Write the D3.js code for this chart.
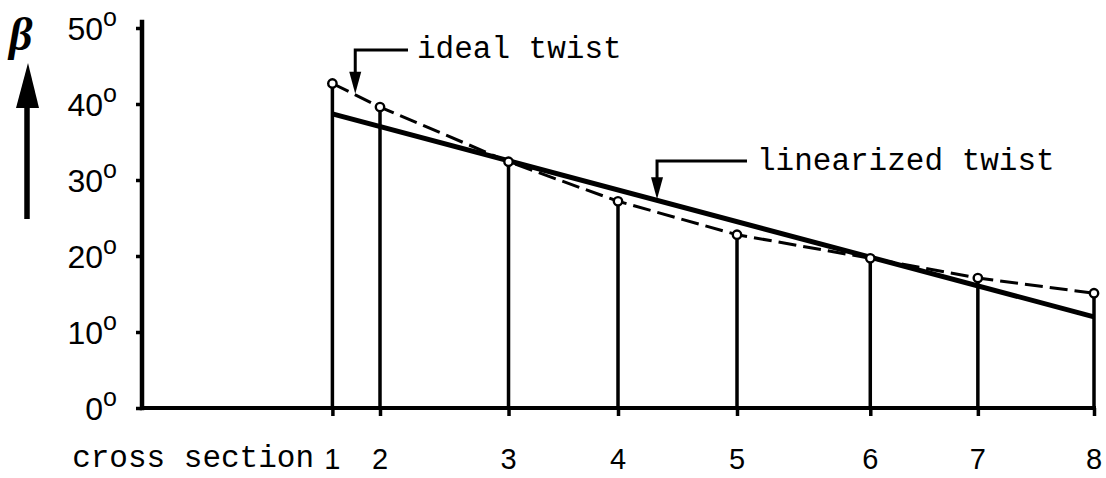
<!DOCTYPE html>
<html><head><meta charset="utf-8">
<script src="https://cdn.jsdelivr.net/npm/d3@7"></script>
<style>
html,body{margin:0;padding:0;background:#fff;}
svg{display:block;}
</style>
</head><body>
<svg id="chart" width="1106" height="478"></svg>
<script>
// ---- data ----
const sections = ["1","2","3","4","5","6","7","8"];
const sectionPos = [0.20, 0.25, 0.385, 0.50, 0.625, 0.765, 0.878, 1.0];   // relative radius
const idealTwist = [42.7, 39.6, 32.4, 27.2, 22.8, 19.7, 17.1, 15.1];      // degrees
const linearTwist = [38.7, 12.0];                                          // at section 1 and section 8
const yTicks = [0, 10, 20, 30, 40, 50];
const xTitle = "cross section";
const yTitle = "β";
const idealLabel = "ideal twist";
const linearLabel = "linearized twist";

const svg = d3.select("#chart");
const x = d3.scaleLinear().domain([0, 1]).range([142, 1094]);
const y = d3.scaleLinear().domain([0, 50]).range([408, 28]);

const sans = "'Liberation Sans', Arial, sans-serif";
const mono = "'Liberation Mono', 'DejaVu Sans Mono', monospace";

// y axis
const yAxis = d3.axisLeft(y).tickValues(yTicks).tickSize(6).tickFormat("").tickSizeOuter(0);
const gy = svg.append("g").attr("transform", `translate(${x(0)},0)`).call(yAxis);
gy.select(".domain").remove();
gy.selectAll(".tick line").attr("stroke", "#000").attr("stroke-width", 3.5);
svg.append("line").attr("x1", x(0)).attr("x2", x(0)).attr("y1", y(51.1)).attr("y2", y(-0.3))
  .attr("stroke", "#000").attr("stroke-width", 4.5);

// y labels
const yl = svg.append("g");
yTicks.forEach(t => {
  const tx = yl.append("text").attr("x", 117).attr("y", y(t) + 12)
    .attr("text-anchor", "end").attr("font-family", sans).attr("font-size", 32).attr("fill", "#000");
  tx.append("tspan").text(String(t));
  tx.append("tspan").attr("dy", -14).attr("font-size", 25).text("o");
});

// x axis
const xAxis = d3.axisBottom(x).tickValues(sectionPos).tickSize(8).tickFormat("").tickSizeOuter(0);
const gx = svg.append("g").attr("transform", `translate(0,${y(0)})`).call(xAxis);
gx.select(".domain").remove();
gx.selectAll(".tick line").attr("stroke", "#000").attr("stroke-width", 3.5);
svg.append("line").attr("x1", x(0)).attr("x2", x(1) + 2).attr("y1", y(0)).attr("y2", y(0))
  .attr("stroke", "#000").attr("stroke-width", 4);

// section numbers
svg.append("g").selectAll("text").data(sections).join("text")
  .attr("x", (d, i) => x(sectionPos[i])).attr("y", 469)
  .attr("text-anchor", "middle").attr("font-family", sans).attr("font-size", 29).attr("fill", "#000")
  .text(d => d);
svg.append("text").attr("x", 314).attr("y", 467).attr("text-anchor", "end")
  .attr("font-family", mono).attr("font-size", 31).attr("fill", "#000").text(xTitle);

// verticals at sections
svg.append("g").selectAll("line").data(sectionPos).join("line")
  .attr("x1", d => x(d)).attr("x2", d => x(d))
  .attr("y1", y(0)).attr("y2", (d, i) => y(idealTwist[i]))
  .attr("stroke", "#000").attr("stroke-width", 3.5);

// linearized twist
const linPts = [[sectionPos[0], linearTwist[0]], [sectionPos[sectionPos.length - 1], linearTwist[1]]];
const line = d3.line().x(d => x(d[0])).y(d => y(d[1]));
svg.append("path").attr("d", line(linPts)).attr("fill", "none").attr("stroke", "#000").attr("stroke-width", 5);

// ideal twist dashed
const idealPts = sectionPos.map((p, i) => [p, idealTwist[i]]);
svg.append("path").attr("d", line(idealPts)).attr("fill", "none").attr("stroke", "#000")
  .attr("stroke-width", 3).attr("stroke-dasharray", "18,7");
svg.append("g").selectAll("circle").data(idealPts).join("circle")
  .attr("cx", d => x(d[0])).attr("cy", d => y(d[1])).attr("r", 4.2)
  .attr("fill", "#fff").attr("stroke", "#000").attr("stroke-width", 2.4);

// annotation helper
function interp(pts, p) {
  for (let i = 0; i < pts.length - 1; i++) {
    if (p >= pts[i][0] && p <= pts[i + 1][0]) {
      const t = (p - pts[i][0]) / (pts[i + 1][0] - pts[i][0]);
      return pts[i][1] + t * (pts[i + 1][1] - pts[i][1]);
    }
  }
  return pts[pts.length - 1][1];
}
function leader(pos, pts, topY, endX, label, textX, textY) {
  const tx = x(pos), ty = y(interp(pts, pos)) - 1;
  svg.append("path").attr("d", `M${endX},${topY}H${tx}V${ty - 18}`)
    .attr("fill", "none").attr("stroke", "#000").attr("stroke-width", 3);
  svg.append("path").attr("d", `M${tx - 6},${ty - 22}L${tx + 6},${ty - 22}L${tx},${ty}Z`).attr("fill", "#000");
  svg.append("text").attr("x", textX).attr("y", textY).attr("font-family", mono)
    .attr("font-size", 31).attr("fill", "#000").text(label);
}
leader(0.224, idealPts, 50, 408, idealLabel, 417, 58);
leader(0.541, linPts, 161, 747, linearLabel, 757, 170);

// beta label with arrow
svg.append("text").attr("x", 9).attr("y", 50).attr("font-family", "'Liberation Serif', 'DejaVu Serif', serif")
  .attr("font-style", "italic").attr("font-weight", "bold").attr("font-size", 46).attr("fill", "#000").text(yTitle);
svg.append("line").attr("x1", 27).attr("x2", 27).attr("y1", 219).attr("y2", 100)
  .attr("stroke", "#000").attr("stroke-width", 5.5);
svg.append("path").attr("d", "M16,108L39,108L28,63Z").attr("fill", "#000");
</script>
</body></html>
